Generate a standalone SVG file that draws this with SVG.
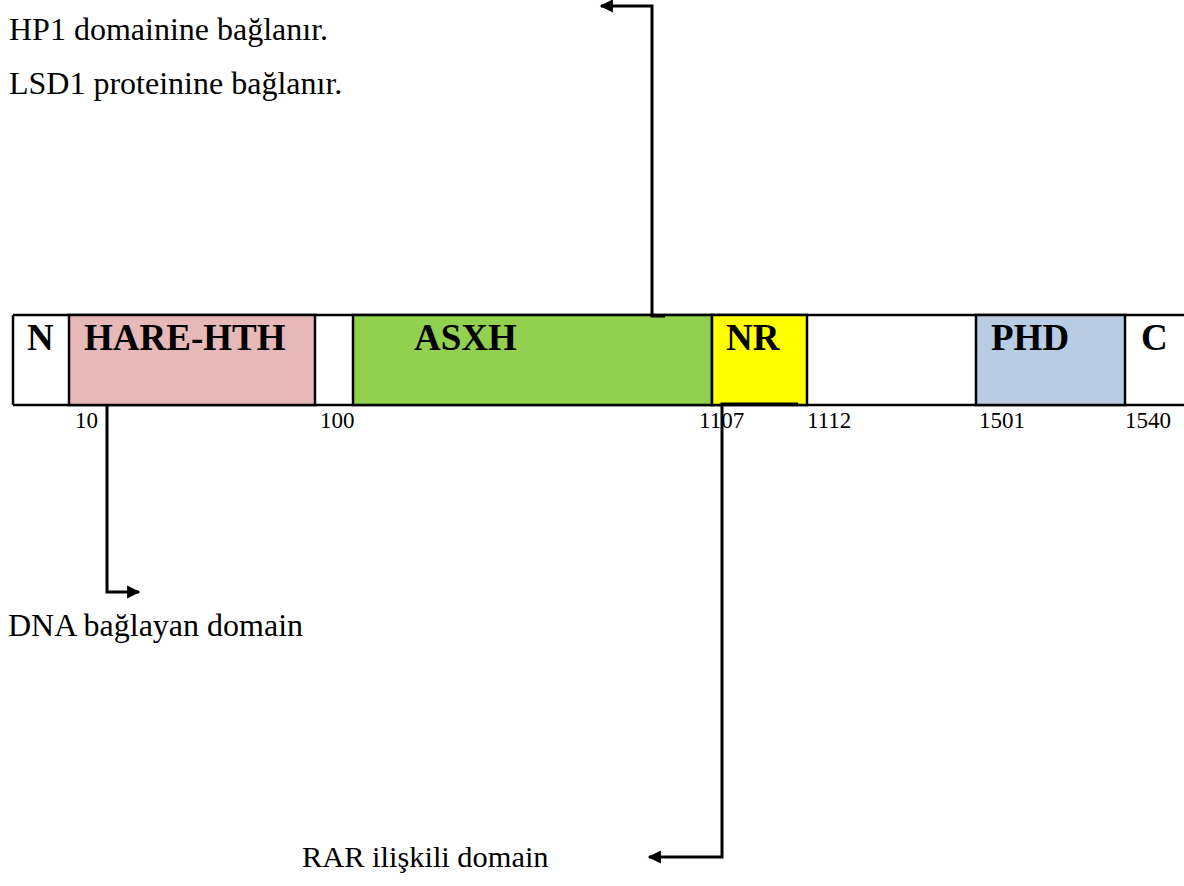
<svg xmlns="http://www.w3.org/2000/svg" width="1184" height="886" viewBox="0 0 1184 886">
  <style>
    .body { font-family: "Liberation Serif", "Times New Roman", serif; font-size: 32px; fill: #000; }
    .num { font-family: "Liberation Serif", "Times New Roman", serif; font-size: 23px; fill: #000; }
    .dom { font-family: "Liberation Serif", "Times New Roman", serif; font-size: 37px; font-weight: bold; fill: #000; }
    .box { stroke: #000; stroke-width: 2.5; }
    .wire { fill: none; stroke: #000; stroke-width: 3; }
  </style>
  <defs>
    <marker id="head" viewBox="0 0 10 10" refX="9" refY="5" markerWidth="5.2" markerHeight="4.4" markerUnits="strokeWidth" orient="auto">
      <path d="M0,0 L10,5 L0,10 Z" fill="#000"/>
    </marker>
  </defs>

  <rect width="1184" height="886" fill="#fff"/>

  <!-- protein bar: outer frame -->
  <g id="bar">
    <line x1="13" y1="315" x2="1184" y2="315" stroke="#000" stroke-width="2.5"/>
    <line x1="13" y1="405" x2="1184" y2="405" stroke="#000" stroke-width="2.5"/>
    <line x1="13" y1="315" x2="13" y2="405" stroke="#000" stroke-width="2.5"/>
  </g>

  <g id="n-term">
    <text class="dom" x="27" y="350">N</text>
  </g>
  <g id="hare-hth">
    <rect class="box" x="69" y="315" width="246" height="90" fill="#E6B8B7"/>
    <text class="dom" x="84" y="350">HARE-HTH</text>
  </g>
  <g id="asxh">
    <rect class="box" x="353" y="315" width="359" height="90" fill="#92D050"/>
    <text class="dom" x="414" y="350">ASXH</text>
  </g>
  <g id="nr">
    <rect class="box" x="712" y="315" width="95" height="90" fill="#FFFF00"/>
    <text class="dom" x="726" y="350">NR</text>
  </g>
  <g id="phd">
    <rect class="box" x="976" y="315" width="149" height="90" fill="#B8CCE4"/>
    <text class="dom" x="991" y="350">PHD</text>
  </g>
  <g id="c-term">
    <text class="dom" x="1141" y="350">C</text>
  </g>

  <!-- residue positions -->
  <g id="positions">
    <text class="num" x="75" y="428">10</text>
    <text class="num" x="320" y="428">100</text>
    <text class="num" x="699" y="428">1107</text>
    <text class="num" x="807" y="428">1112</text>
    <text class="num" x="979" y="428">1501</text>
    <text class="num" x="1125" y="428">1540</text>
  </g>

  <!-- connectors -->
  <g id="connectors">
    <path class="wire" d="M665,316 L652,316 L652,6 L601,6" marker-end="url(#head)"/>
    <path class="wire" d="M107,406 L107,592 L139,592" marker-end="url(#head)"/>
    <path class="wire" d="M798,404 L722,404 L722,857 L649,857" marker-end="url(#head)"/>
  </g>

  <!-- annotations -->
  <g id="labels">
    <text class="body" x="9" y="40">HP1 domainine bağlanır.</text>
    <text class="body" x="9" y="94">LSD1 proteinine bağlanır.</text>
    <text class="body" x="8" y="636">DNA bağlayan domain</text>
    <text class="body" x="302" y="867" style="font-size:30.4px">RAR ilişkili domain</text>
  </g>
</svg>
